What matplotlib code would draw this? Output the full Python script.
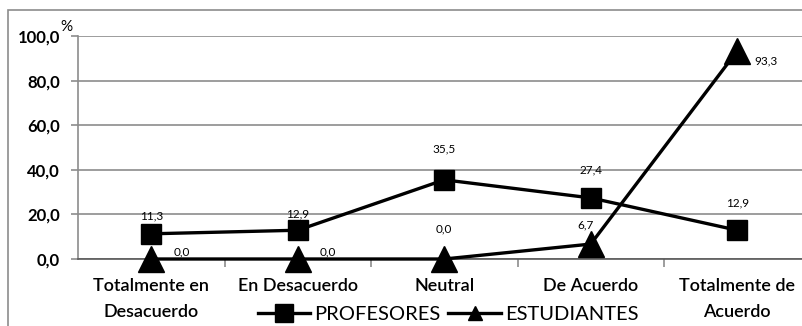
import matplotlib.pyplot as plt
from matplotlib.patches import Rectangle
from matplotlib.lines import Line2D

categorias = ['Totalmente en\nDesacuerdo', 'En Desacuerdo', 'Neutral',
              'De Acuerdo', 'Totalmente de\nAcuerdo']
profesores = [11.3, 12.9, 35.5, 27.4, 12.9]
estudiantes = [0.0, 0.0, 0.0, 6.7, 93.3]
y_ticks = [0, 20, 40, 60, 80, 100]

plt.rcParams['font.family'] = ['Lato', 'DejaVu Sans']

W, H = 802, 326
fig = plt.figure(figsize=(W / 100, H / 100), dpi=100)
ax = fig.add_axes([78 / W, (H - 259) / H, 732.5 / W, 223 / H])

# outer chart border
fig.patches.append(Rectangle((8 / W, -0.1), 1.0, (H - 10) / H + 0.1,
                             transform=fig.transFigure, fill=False,
                             edgecolor='#8c8c8c', linewidth=1.2))

x = list(range(len(categorias)))
ax.plot(x, profesores, color='black', linewidth=2.4, marker='s',
        markersize=15, label='PROFESORES', zorder=4, clip_on=False)
ax.plot(x, estudiantes, color='black', linewidth=2.4, marker='^',
        markersize=19, label='ESTUDIANTES', zorder=4, clip_on=False)

def fmt(v):
    return f'{v:.1f}'.replace('.', ',')

prof_offsets = [13, 12, 22, 20, 20]
for xi, v, dy in zip(x, profesores, prof_offsets):
    ax.annotate(fmt(v), (xi, v), xytext=(0, dy), textcoords='offset points',
                ha='center', va='center', fontsize=8.5)

est_offsets = [(16, 5, 'left'), (16, 5, 'left'), (0, 22, 'center'),
               (-4, 14, 'center'), (12, -7, 'left')]
for xi, v, (dx, dy, ha) in zip(x, estudiantes, est_offsets):
    ax.annotate(fmt(v), (xi, v), xytext=(dx, dy), textcoords='offset points',
                ha=ha, va='center', fontsize=8.5)

ax.set_xlim(-0.5, 4.5)
ax.set_ylim(0, 100)
ax.set_yticks(y_ticks)
ax.set_yticklabels([fmt(t) for t in y_ticks], fontsize=12, fontweight='bold')
ax.yaxis.grid(True, color='#8c8c8c', linewidth=1.2)
ax.set_axisbelow(True)

ax.set_xticks(x)
ax.set_xticklabels(categorias, fontsize=13, fontweight='semibold',
                   linespacing=1.75)
ax.set_xticks([0.5, 1.5, 2.5, 3.5], minor=True)
ax.tick_params(axis='x', which='major', length=0, pad=14)
ax.tick_params(axis='x', which='minor', length=6, color='#8c8c8c', width=1.2)
ax.tick_params(axis='y', length=5, color='#8c8c8c', width=1.2, pad=8)

for s in ['top', 'right']:
    ax.spines[s].set_visible(False)
ax.spines['left'].set_color('#8c8c8c')
ax.spines['left'].set_linewidth(1.2)
ax.spines['bottom'].set_color('#595959')
ax.spines['bottom'].set_linewidth(1.2)

fig.text(60 / W, (H - 27) / H, '%', fontsize=11, ha='left', va='center')

handles = [Line2D([], [], color='black', linewidth=2.4, marker='s', markersize=13),
           Line2D([], [], color='black', linewidth=2.4, marker='^', markersize=10)]
fig.legend(handles, ['PROFESORES', 'ESTUDIANTES'], loc='center',
           bbox_to_anchor=(448 / W, (H - 314) / H), ncol=2, frameon=False,
           fontsize=14.5, handlelength=2.6, handletextpad=0.2,
           columnspacing=0.4, borderpad=0)

fig.savefig('out.png', dpi=100)
